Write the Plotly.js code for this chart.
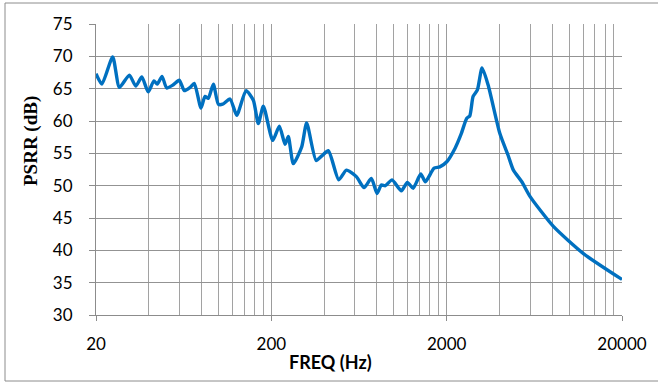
<!DOCTYPE html>
<html>
<head>
<meta charset="utf-8">
<script src="https://cdn.plot.ly/plotly-3.0.1.min.js"></script>
<style>
  html, body { margin: 0; padding: 0; background: #fff; }
  #chart { width: 658px; height: 383px; }
</style>
</head>
<body>
<div id="chart"></div>
<script>
// PSRR versus supply-ripple frequency
const freqHz = [
  20, 21.6, 24.9, 27.2, 31.0, 33.7, 36.5, 39.7, 42.8, 44.7,
  47.6, 50.6, 55.2, 59.7, 63.8, 68.8, 72.7, 79.4, 83.7, 87.4,
  93.4, 99.7, 105.6, 116.3, 127.0, 143.5, 157.9, 168.6, 180.1, 203.7,
  222.2, 239.5, 250, 267, 298, 318, 360, 388, 423, 485,
  536, 611, 676, 744, 802, 848, 894, 976, 1103, 1194,
  1287, 1423, 1512, 1695, 1827, 2003, 2234, 2420, 2600, 2710,
  2830, 2994, 3184, 3445, 4018, 4480, 4804, 5364, 5984, 8122,
  12048, 20000
];
const psrrDb = [
  67.3, 65.7, 69.9, 65.2, 67.1, 65.4, 66.8, 64.5, 66.2, 65.7,
  66.9, 65.1, 65.6, 66.3, 64.7, 65.2, 65.8, 62.0, 63.8, 63.5,
  65.7, 62.6, 62.6, 63.4, 60.9, 64.7, 63.2, 59.6, 62.3, 57.0,
  59.2, 56.4, 57.6, 53.4, 56.0, 59.7, 53.9, 54.6, 55.4, 50.9,
  52.4, 51.4, 49.7, 51.1, 48.8, 50.1, 50.0, 50.9, 49.2, 50.5,
  49.6, 51.8, 50.6, 52.7, 52.9, 53.7, 55.8, 58.0, 60.4, 60.8,
  63.8, 64.8, 68.2, 65.6, 58.1, 54.7, 52.4, 50.6, 48.3, 43.7,
  39.5, 35.5
];

// Axis labelling
const xTickVals = [20, 200, 2000, 20000];
const xTickText = ['20', '200', '2000', '20000'];
const minorSteps = [2, 3, 4, 5, 6, 7, 8, 9];
const decadeStarts = [20, 200, 2000];
const yTickVals = [30, 35, 40, 45, 50, 55, 60, 65, 70, 75];
const xTitle = 'FREQ (Hz)';
const yTitle = 'PSRR (dB)';

const xMinorVals = [];
decadeStarts.forEach(d => minorSteps.forEach(m => xMinorVals.push(d * m)));

const trace = {
  x: freqHz,
  y: psrrDb,
  type: 'scatter',
  mode: 'lines',
  line: { color: '#0070C0', width: 3.4, shape: 'spline', smoothing: 0.6 },
  hoverinfo: 'x+y'
};

const tickFont = { family: 'Lato, "Open Sans", sans-serif', size: 17, color: '#000' };

// plot area: 526 x 291 px
const W = 526, H = 291;

const layout = {
  width: 658,
  height: 383,
  margin: { l: 96, r: 36, t: 24, b: 68 },
  paper_bgcolor: '#fff',
  plot_bgcolor: '#fff',
  showlegend: false,
  xaxis: {
    type: 'log',
    range: [Math.log10(20), Math.log10(20000)],
    tickmode: 'array',
    tickvals: xTickVals,
    ticktext: xTickText,
    ticks: 'outside',
    ticklen: 5,
    tickcolor: '#8c8c8c',
    tickfont: tickFont,
    ticklabelstandoff: 9,
    showgrid: true,
    gridcolor: '#9c9c9c',
    gridwidth: 1,
    minor: {
      tickmode: 'array',
      tickvals: xMinorVals,
      showgrid: true,
      gridcolor: '#a2a2a2',
      gridwidth: 1,
      ticks: ''
    },
    showline: true,
    linecolor: '#8c8c8c',
    linewidth: 1,
    zeroline: false
  },
  yaxis: {
    range: [30, 75],
    tickmode: 'array',
    tickvals: yTickVals,
    ticks: 'outside',
    ticklen: 6,
    tickcolor: '#8c8c8c',
    tickfont: tickFont,
    ticklabelstandoff: 13,
    showgrid: true,
    gridcolor: '#939393',
    gridwidth: 1,
    showline: true,
    linecolor: '#8c8c8c',
    linewidth: 1,
    zeroline: false
  },
  annotations: [
    {
      text: xTitle,
      xref: 'paper', yref: 'paper',
      x: (330.5 - 96) / W, y: -47 / H,
      xanchor: 'center', yanchor: 'middle',
      showarrow: false,
      font: { family: 'Lato, "Open Sans", sans-serif', size: 18, color: '#000', weight: 'bold' }
    },
    {
      text: yTitle,
      xref: 'paper', yref: 'paper',
      x: (30.5 - 96) / W, y: (315 - 141.5) / H,
      xanchor: 'center', yanchor: 'middle',
      textangle: -90,
      showarrow: false,
      font: { family: '"Liberation Serif", "DejaVu Serif", serif', size: 19, color: '#000', weight: 'bold' }
    }
  ],
  shapes: [{
    type: 'rect',
    xref: 'paper', yref: 'paper',
    x0: -91 / W, x1: 1 + 40 / W,
    y0: -66 / H, y1: 1 + 21 / H,
    line: { color: '#8c8c8c', width: 1 },
    fillcolor: 'rgba(0,0,0,0)',
    layer: 'below'
  }]
};

Plotly.newPlot('chart', [trace], layout, { displayModeBar: false, staticPlot: true });
</script>
</body>
</html>
